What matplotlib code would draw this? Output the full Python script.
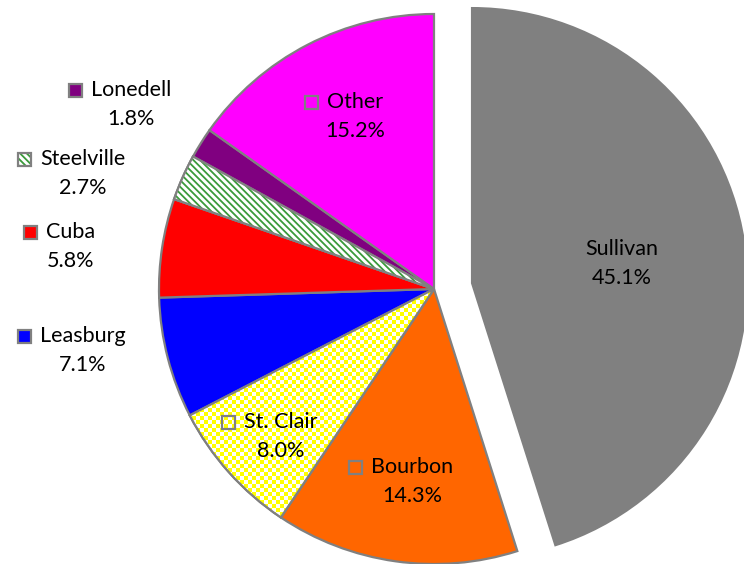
import numpy as np
import matplotlib
matplotlib.use('Agg')
import matplotlib.pyplot as plt
from matplotlib.patches import Rectangle, Wedge

# Slice data (clockwise from 12 o'clock)
towns = ['Sullivan', 'Bourbon', 'St. Clair', 'Leasburg', 'Cuba', 'Steelville', 'Lonedell', 'Other']
shares = [45.1, 14.3, 8.0, 7.1, 5.8, 2.7, 1.8, 15.2]
colors = ['#808080', '#FF6600', '#FFFFFF', '#0000FF', '#FF0000', '#FFFFFF', '#800080', '#FF00FF']

# Label placement (pixel coords, y measured from top): name centre x, name y
label_pos = {
    'Sullivan': (622, 249), 'Bourbon': (412, 467), 'St. Clair': (281, 422),
    'Leasburg': (83, 336), 'Cuba': (71, 232), 'Steelville': (83, 159),
    'Lonedell': (131, 90), 'Other': (355, 102),
}

W, H = 744, 564
edge = '#808080'
green = '#3A9A3A'
plt.rcParams['font.family'] = ['Lato', 'DejaVu Sans']
plt.rcParams['hatch.linewidth'] = 1.3

fig = plt.figure(figsize=(W / 100, H / 100), dpi=100)
ax = fig.add_axes([0, 0, 1, 1])

cx, cy, r = 434, H - 289, 275
# pie explode is an absolute offset in data units here
explode = [38.5, 0, 0, 0, 0, 0, 0, 0]
wedges, _ = ax.pie(shares, colors=colors, explode=explode, startangle=90,
                   counterclock=False, center=(cx, cy), radius=r,
                   wedgeprops=dict(edgecolor=edge, linewidth=1.6))

ax.set_xlim(0, W)
ax.set_ylim(0, H)
ax.set_aspect('equal')
ax.axis('off')

# Steelville: green diagonal stripes
sv = wedges[towns.index('Steelville')]
ax.add_patch(Wedge(sv.center, sv.r, sv.theta1, sv.theta2, facecolor='white',
                   edgecolor=green, hatch='\\\\\\\\\\', linewidth=0, zorder=2))
ax.add_patch(Wedge(sv.center, sv.r, sv.theta1, sv.theta2, facecolor='none',
                   edgecolor=edge, linewidth=1.6, zorder=3))

# St. Clair: yellow / white checkerboard
sc = wedges[towns.index('St. Clair')]
cell = 4
nx, ny = W // cell, H // cell
checker = np.add.outer(np.arange(ny), np.arange(nx)) % 2
rgb = np.ones((ny, nx, 3))
rgb[checker == 0] = [1, 1, 0]
im = ax.imshow(rgb, extent=(0, W, 0, H), origin='lower', zorder=2, interpolation='nearest')
im.set_clip_path(sc)
ax.add_patch(Wedge(sc.center, sc.r, sc.theta1, sc.theta2, facecolor='none',
                   edgecolor=edge, linewidth=1.6, zorder=3))
ax.set_xlim(0, W)
ax.set_ylim(0, H)

# Data labels with legend keys
fs = 15.5
fig.canvas.draw()
inv = ax.transData.inverted()
for i, name in enumerate(towns):
    x, yimg = label_pos[name]
    y = H - yimg
    t = ax.text(x, y, name, ha='center', va='center', fontsize=fs, zorder=5)
    ax.text(x, y - 29, f'{shares[i]:.1f}%', ha='center', va='center', fontsize=fs, zorder=5)
    if name == 'Sullivan':
        continue
    bb = t.get_window_extent(renderer=fig.canvas.get_renderer()).transformed(inv)
    kx = bb.x0 - 13 - 9
    if name == 'Steelville':
        ax.add_patch(Rectangle((kx, y - 6.5), 13, 13, facecolor='white',
                               edgecolor=green, hatch='\\\\\\\\\\', linewidth=0, zorder=5))
        fc = 'none'
    elif name == 'St. Clair':
        fc = 'none'
    else:
        fc = colors[i]
    ax.add_patch(Rectangle((kx, y - 6.5), 13, 13, facecolor=fc, edgecolor=edge,
                           linewidth=1.6, zorder=6))

fig.savefig('out.png', dpi=100)
